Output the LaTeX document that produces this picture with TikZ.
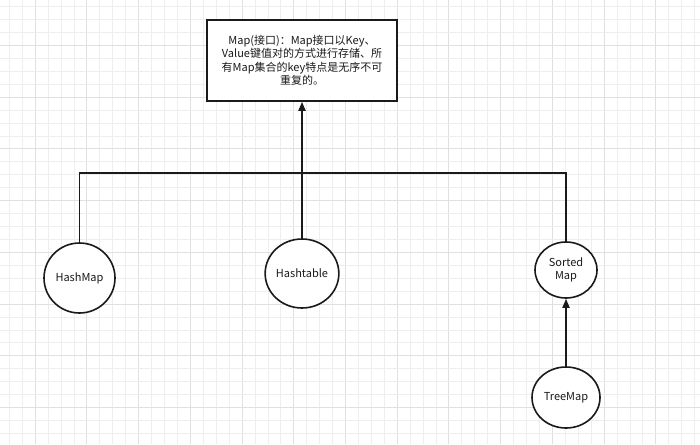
\documentclass[tikz,border=0pt]{standalone}
\usepackage{fontspec}
\setmainfont{Noto Sans CJK SC}
\usetikzlibrary{shapes.geometric,arrows.meta}
\definecolor{gridminor}{HTML}{EEEEEE}
\definecolor{gridmajor}{HTML}{E0E0E0}
\definecolor{ink}{HTML}{1A1A1A}
\tikzset{
  classnode/.style={ellipse, draw=ink, line width=1.6pt, fill=white, inner sep=0pt,
    font=\fontsize{11}{13.3}\selectfont, text=ink, align=center},
  ifacebox/.style={rectangle, draw=ink, line width=1.8pt, fill=white, inner sep=0pt,
    minimum width=190pt, minimum height=81pt, align=center,
    font=\fontsize{11}{13.3}\selectfont, text=ink},
  link/.style={draw=ink, line width=1.8pt},
  linkarrow/.style={link, -{Triangle[length=9pt,width=7pt]}}
}
\begin{document}
\begin{tikzpicture}[x=1pt,y=-1pt]
\useasboundingbox (0,0) rectangle (700,444);
\fill[white] (0,0) rectangle (700,444);
% grid
\foreach \k in {0,...,53} {
  \pgfmathsetmacro\xx{9.3+12.93*\k}
  \pgfmathtruncatemacro\m{mod(\k,4)}
  \ifnum\m=2
    \draw[gridmajor, line width=0.9pt] (\xx,0) -- (\xx,444);
  \else
    \draw[gridminor, line width=0.8pt] (\xx,0) -- (\xx,444);
  \fi
}
\foreach \k in {0,...,33} {
  \pgfmathsetmacro\yy{6.7+12.93*\k}
  \pgfmathtruncatemacro\m{mod(\k,4)}
  \ifnum\m=3
    \draw[gridmajor, line width=0.9pt] (0,\yy) -- (700,\yy);
  \else
    \draw[gridminor, line width=0.8pt] (0,\yy) -- (700,\yy);
  \fi
}
% nodes
\node[ifacebox] (map) at (302,60.4) {Map(接口)：Map接口以Key、\\Value键值对的方式进行存储、所\\有Map集合的key特点是无序不可\\重复的。};
\node[classnode, minimum width=71pt, minimum height=70pt] (hm) at (79.5,278) {HashMap};
\node[classnode, minimum width=73pt, minimum height=69pt] (ht) at (302,273.5) {Hashtable};
\node[classnode, minimum width=62pt, minimum height=56pt] (sm) at (566,270) {Sorted\\Map};
\node[classnode, minimum width=68pt, minimum height=61pt] (tm) at (566,397.5) {TreeMap};
\coordinate (jn) at (302,173);
% connectors
\draw[link] (hm.north) |- (jn);
\draw[link] (sm.north) |- (jn);
\draw[linkarrow] (ht.north) -- (map.south);
\draw[linkarrow] (tm.north) -- (sm.south);
\end{tikzpicture}
\end{document}
